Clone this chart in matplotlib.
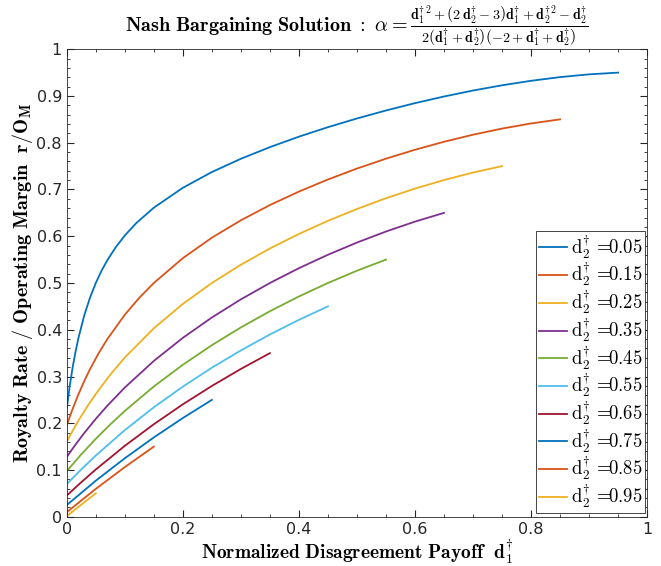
import numpy as np
import matplotlib
matplotlib.use("Agg")
import matplotlib.pyplot as plt
from matplotlib.ticker import MultipleLocator

plt.rcParams['mathtext.fontset'] = 'cm'

# d2 values (one curve each)
d2_vals = [0.05, 0.15, 0.25, 0.35, 0.45, 0.55, 0.65, 0.75, 0.85, 0.95]

# d1 samples / r/O_M for each curve
x_005 = [0, 0.005, 0.01, 0.015, 0.02, 0.03, 0.04, 0.05, 0.06, 0.07, 0.085, 0.1, 0.12, 0.15, 0.2, 0.25, 0.3, 0.35,
         0.4, 0.45, 0.5, 0.55, 0.6, 0.65, 0.7, 0.75, 0.8, 0.85, 0.9, 0.95]
y_005 = [0.2314, 0.2788, 0.3185, 0.3524, 0.3818, 0.4301, 0.4685, 0.5, 0.5264, 0.549, 0.5776, 0.6016, 0.6284, 0.6611,
         0.7036, 0.7373, 0.7657, 0.7906, 0.813, 0.8333, 0.8519, 0.869, 0.8847, 0.8989, 0.9117, 0.9229, 0.9325, 0.9404,
         0.9463, 0.95]
x_015 = [0, 0.005, 0.01, 0.02, 0.03, 0.04, 0.055, 0.07, 0.1, 0.125, 0.15, 0.2, 0.25, 0.3, 0.35, 0.4, 0.45, 0.5, 0.55,
         0.6, 0.65, 0.7, 0.75, 0.8, 0.85]
y_015 = [0.1953, 0.2133, 0.2303, 0.2616, 0.2898, 0.3155, 0.3499, 0.3803, 0.4321, 0.4684, 0.5, 0.5531, 0.5969, 0.6341,
         0.6667, 0.6955, 0.7214, 0.7448, 0.7659, 0.785, 0.8021, 0.8172, 0.8303, 0.8413, 0.85]
x_025 = [0, 0.01, 0.02, 0.035, 0.05, 0.075, 0.1, 0.15, 0.2, 0.25, 0.3, 0.35, 0.4, 0.45, 0.5, 0.55, 0.6, 0.65, 0.7, 0.75]
y_025 = [0.1607, 0.1837, 0.2053, 0.2353, 0.2627, 0.304, 0.3406, 0.4031, 0.4553, 0.5, 0.5391, 0.5738, 0.6049, 0.633,
         0.6583, 0.6813, 0.7019, 0.7202, 0.7363, 0.75]
x_035 = [0, 0.015, 0.03, 0.05, 0.07, 0.1, 0.15, 0.2, 0.25, 0.3, 0.35, 0.4, 0.45, 0.5, 0.55, 0.6, 0.65]
y_035 = [0.128, 0.1543, 0.1789, 0.2094, 0.2376, 0.2764, 0.3333, 0.3827, 0.4262, 0.465, 0.5, 0.5317, 0.5604, 0.5865,
         0.6101, 0.6313, 0.65]
x_045 = [0, 0.025, 0.05, 0.075, 0.1, 0.15, 0.2, 0.25, 0.3, 0.35, 0.4, 0.45, 0.5, 0.55]
y_045 = [0.0976, 0.1335, 0.1667, 0.1975, 0.2263, 0.2786, 0.3251, 0.367, 0.405, 0.4396, 0.4712, 0.5, 0.5263, 0.55]
x_055 = [0, 0.025, 0.05, 0.1, 0.15, 0.2, 0.25, 0.3, 0.35, 0.4, 0.45]
y_055 = [0.0698, 0.1013, 0.131, 0.1853, 0.2341, 0.2783, 0.3188, 0.3558, 0.3899, 0.4212, 0.45]
x_065 = [0, 0.025, 0.05, 0.1, 0.15, 0.2, 0.25, 0.3, 0.35]
y_065 = [0.0454, 0.0739, 0.1011, 0.1517, 0.1979, 0.2405, 0.2798, 0.3162, 0.35]
x_075 = [0, 0.05, 0.1, 0.15, 0.2, 0.25]
y_075 = [0.025, 0.0771, 0.1251, 0.1697, 0.2112, 0.25]
x_085 = [0, 0.05, 0.1, 0.15]
y_085 = [0.0098, 0.0596, 0.1062, 0.15]
x_095 = [0, 0.025, 0.05]
y_095 = [0.0012, 0.0259, 0.05]

xs = [x_005, x_015, x_025, x_035, x_045, x_055, x_065, x_075, x_085, x_095]
ys = [y_005, y_015, y_025, y_035, y_045, y_055, y_065, y_075, y_085, y_095]

# colori di default di MATLAB
colori = ['#0072BD', '#D95319', '#EDB120', '#7E2F8E', '#77AC30',
          '#4DBEEE', '#A2142F', '#0072BD', '#D95319', '#EDB120']

fig = plt.figure(figsize=(6.61, 5.66), dpi=100)
ax = fig.add_axes([0.101, 0.087, 0.878, 0.826])

for i in range(len(d2_vals)):
    ax.plot(xs[i], ys[i], color=colori[i], lw=1.3,
            label=r'$\mathrm{d}_2^{\dagger}\,=\!\!%.2f$' % d2_vals[i])

ax.set_xlim(0, 1)
ax.set_ylim(0, 1)
ax.set_xticks(np.arange(0, 1.01, 0.2))
ax.set_xticklabels(['0', '0.2', '0.4', '0.6', '0.8', '1'])
ax.xaxis.set_minor_locator(MultipleLocator(0.05))
ax.set_yticks(np.arange(0, 1.01, 0.1))
ax.set_yticklabels(['0', '0.1', '0.2', '0.3', '0.4', '0.5', '0.6', '0.7', '0.8', '0.9', '1'])
ax.yaxis.set_minor_locator(MultipleLocator(0.02))
ax.tick_params(which='both', direction='in', top=True, right=True, color='#262626', labelsize=11.5, labelcolor='#262626')
ax.tick_params(which='major', length=5)
ax.tick_params(which='minor', length=2.5)
for sp in ax.spines.values():
    sp.set_color('#262626')
    sp.set_linewidth(0.6)

ax.set_xlabel(r'$\mathbf{Normalized\ Disagreement\ Payoff}\ \ \mathbf{d}_1^{\dagger}$', fontsize=14, labelpad=1)
ax.set_ylabel(r'$\mathbf{Royalty\ Rate\ /\ Operating\ Margin}\ \ \mathbf{r/O}_\mathbf{M}$', fontsize=14.5, labelpad=1)
ax.set_title(r'$\mathbf{Nash\ Bargaining\ Solution\ :}\ \alpha=\frac{\mathbf{d}_1^{\dagger\,2}+\left(2\,\mathbf{d}_2^{\dagger}-3\right)\mathbf{d}_1^{\dagger}+\mathbf{d}_2^{\dagger\,2}-\mathbf{d}_2^{\dagger}}{2\left(\mathbf{d}_1^{\dagger}+\mathbf{d}_2^{\dagger}\right)\left(-2+\mathbf{d}_1^{\dagger}+\mathbf{d}_2^{\dagger}\right)}$',
             fontsize=14.5, pad=4)

leg = ax.legend(loc='lower right', bbox_to_anchor=(0.997, 0.008), fontsize=13.5,
                handlelength=1.5, handletextpad=0.2, labelspacing=0.02, borderpad=0.15,
                borderaxespad=0, fancybox=False, framealpha=1)
leg.get_frame().set_edgecolor('#262626')
leg.get_frame().set_linewidth(0.6)

plt.savefig('out.png', dpi=100)
